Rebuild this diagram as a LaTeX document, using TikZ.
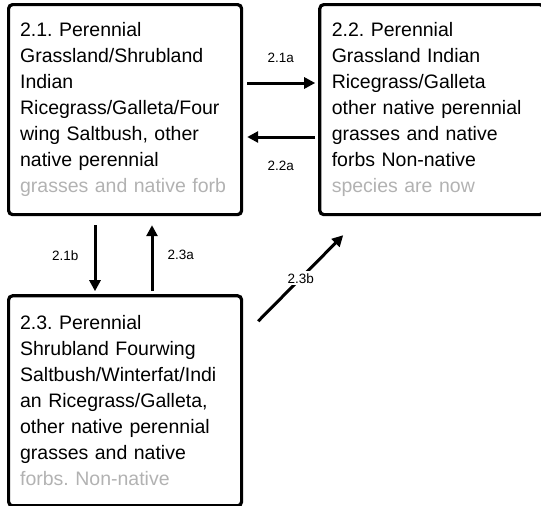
\documentclass[tikz,border=0pt]{standalone}
\usepackage{fontspec}
\setmainfont{Liberation Sans}
\usepackage{tikz}
\usetikzlibrary{arrows.meta, positioning}
\frenchspacing
\tikzstyle{state} = [rectangle, draw=black, line width=3.2pt, rounded corners=4pt, inner xsep=11.5pt, inner ysep=0pt, text width=210pt, minimum height=210pt, align=left, font=\fontsize{19.5}{26}\selectfont, anchor=north west]
\tikzstyle{arrow} = [line width=3pt, -{Triangle[length=11pt, width=11pt]}]

\begin{document}
\begin{tikzpicture}[
        node distance=75pt,
        lab/.style={font=\fontsize{13.5}{15}\selectfont, inner sep=0pt}
        ]

        \useasboundingbox (0,0) rectangle (541pt,-506pt);

        \node[state] (grass_shrub) at (7pt,-3pt) {2.1. Perennial\\Grassland/Shrubland\\Indian\\Ricegrass/Galleta/Four\\wing Saltbush, other\\native perennial\\\textcolor{black!30}{grasses and native forb}};
        \node[state, right=of grass_shrub.north east, anchor=north west, inner xsep=12pt, text width=200pt] (grassland) {2.2. Perennial\\Grassland Indian\\Ricegrass/Galleta\\other native perennial\\grasses and native\\forbs Non-native\\\textcolor{black!30}{species are now}};
        \node[state, below=78pt of grass_shrub.south west, anchor=north west] (shrubland) {2.3. Perennial\\Shrubland Fourwing\\Saltbush/Winterfat/Indi\\an Ricegrass/Galleta,\\other native perennial\\grasses and native\\\textcolor{black!30}{forbs. Non-native}};

        \draw[arrow, shorten <=4pt, shorten >=3pt] ([yshift=-80pt]grass_shrub.north east) -- node[lab, above=19pt] {2.1a} ([yshift=-80pt]grassland.north west);
        \draw[arrow, shorten <=3pt, shorten >=4pt] ([yshift=-134pt]grassland.north west) -- node[lab, below=23pt] {2.2a} ([yshift=-134pt]grass_shrub.north east);
        \draw[arrow, shorten <=9pt, shorten >=3pt] ([xshift=88pt]grass_shrub.south west) -- node[lab, left=15pt] {2.1b} ([xshift=88pt]shrubland.north west);
        \draw[arrow, shorten <=3pt, shorten >=9pt] ([xshift=145pt]shrubland.north west) -- node[lab, right=14pt] {2.3a} ([xshift=145pt]grass_shrub.south west);
        \draw[arrow] ([xshift=15pt, yshift=-27pt]shrubland.north east) -- node[lab, fill=white, inner sep=2pt] {2.3b} ([xshift=25pt, yshift=-19pt]grassland.south west);

    \end{tikzpicture}
\end{document}
